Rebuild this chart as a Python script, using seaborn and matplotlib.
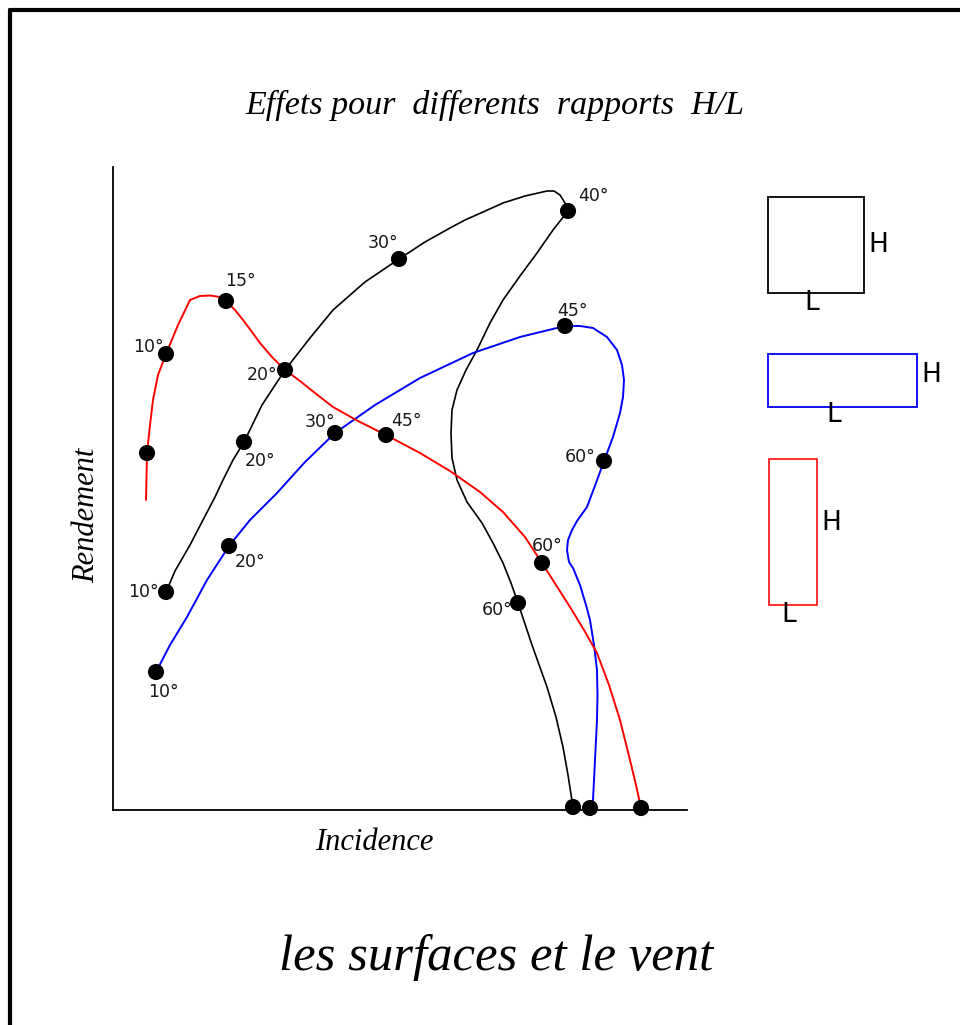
import matplotlib
matplotlib.use("Agg")
import matplotlib.pyplot as plt
import seaborn as sns
from matplotlib.patches import Rectangle
from matplotlib.lines import Line2D

sns.set_style("white")
plt.rcParams['font.family'] = ['DejaVu Sans']
plt.rcParams['text.color'] = 'black'
plt.rcParams['axes.labelcolor'] = 'black'

# --- curves (Incidence, Rendement in arbitrary units) ---
# square plate H/L = 1 (black)
sq_x = [53, 62, 77, 90, 102, 110, 120, 131, 149, 172, 197, 220, 252, 286, 312, 337, 352, 370,
        390, 412, 434, 441, 447, 452, 455, 440, 424, 407, 390, 377, 364, 353, 344, 339, 338,
        339, 344, 354, 369, 380, 390, 398, 405, 419, 434, 443, 450, 455, 460]
sq_y = [218, 239, 265, 290, 313, 330, 350, 368, 405, 440, 472, 500, 528, 551, 568, 582, 590, 598,
        607, 614, 619, 619, 615, 607, 599, 580, 557, 534, 510, 487, 460, 440, 420, 400, 377,
        352, 330, 308, 287, 267, 247, 227, 207, 165, 123, 93, 63, 35, 3]
sq_pts_x = [53, 131, 286, 455, 405, 460]
sq_pts_y = [218, 368, 551, 599, 207, 3]
sq_labels = ["10°", "20°", "30°", "40°", "60°", ""]

# wide plate H/L < 1 (blue)
wide_x = [43, 57, 74, 94, 116, 137, 164, 192, 222, 262, 307, 360, 407, 452, 467, 480, 494, 504,
          509, 511, 510, 507, 500, 491, 483, 474, 464, 459, 455, 454, 456, 460, 467, 473, 477,
          481, 484, 484.5, 484, 482, 480, 477]
wide_y = [138, 165, 193, 230, 264, 290, 317, 348, 377, 405, 432, 457, 473, 484, 484, 482, 473, 460,
          445, 430, 413, 397, 373, 349, 327, 303, 289, 280, 270, 260, 248, 242, 225, 205, 190,
          165, 140, 115, 90, 50, 10, 2]
wide_pts_x = [43, 116, 222, 452, 491, 477]
wide_pts_y = [138, 264, 377, 484, 349, 2]
wide_labels = ["10°", "20°", "30°", "45°", "60°", ""]

# tall plate H/L > 1 (red)
tall_x = [33, 33.5, 34, 37, 40, 45, 53, 65, 77, 87, 97, 107, 113, 122, 130, 139, 147, 159, 172,
          187, 202, 220, 245, 273, 307, 337, 367, 390, 412, 429, 443, 457, 471, 484, 496, 507,
          517, 523, 528]
tall_y = [310, 332, 357, 385, 410, 435, 456, 485, 510, 514, 514.5, 513, 509, 500, 490, 478, 467,
          453, 440, 429, 417, 403, 389, 375, 357, 339, 318, 298, 273, 247, 225, 203, 180, 157,
          125, 90, 50, 25, 2]
tall_pts_x = [34, 53, 113, 172, 273, 429, 528]
tall_pts_y = [357, 456, 509, 440, 375, 247, 2]
tall_labels = ["", "10°", "15°", "20°", "45°", "60°", ""]

# label offsets in pixels from each dot
sq_off = [(-23, 0), (16, -19), (-16, 16), (25, 15), (-21, -7), (0, 0)]
wide_off = [(7, -20), (21, -16), (-15, 11), (7, 15), (-24, 4), (0, 0)]
tall_off = [(0, 0), (-18, 7), (14, 20), (-23, -5), (20, 14), (5, 17), (0, 0)]

curves = [
    (sq_x, sq_y, sq_pts_x, sq_pts_y, sq_labels, sq_off, "black", 1.2),
    (wide_x, wide_y, wide_pts_x, wide_pts_y, wide_labels, wide_off, "#0000ff", 1.4),
    (tall_x, tall_y, tall_pts_x, tall_pts_y, tall_labels, tall_off, "#ff0000", 1.4),
]

fig = plt.figure(figsize=(9.6, 10.25), dpi=100)
ax = fig.add_axes([113 / 960, (1025 - 810) / 1025, 574 / 960, 643 / 1025])

for cx, cy, px, py, labs, offs, col, lw in curves:
    sns.lineplot(x=cx, y=cy, sort=False, estimator=None, color=col, lw=lw, ax=ax, zorder=3)
    sns.scatterplot(x=px, y=py, s=135, color="black", edgecolor="none", ax=ax,
                    zorder=5, clip_on=False)
    for xx, yy, lab, off in zip(px, py, labs, offs):
        if lab:
            ax.annotate(lab, (xx, yy), xytext=off, textcoords="offset pixels",
                        ha="center", va="center", fontsize=12.5, color="#1a1a1a", zorder=6)

ax.set_xlim(0, 574)
ax.set_ylim(0, 643)
ax.set_xticks([])
ax.set_yticks([])
for s in ["top", "right"]:
    ax.spines[s].set_visible(False)
for s in ["left", "bottom"]:
    ax.spines[s].set_color("black")
    ax.spines[s].set_linewidth(1.3)

serif = ["Liberation Serif", "DejaVu Serif"]
ax.set_xlabel("Incidence", fontsize=22, style="italic", family=serif)
ax.set_ylabel("Rendement", fontsize=22, style="italic", family=serif)
ax.xaxis.set_label_coords((374 - 113) / 574, -18 / 643)
ax.yaxis.set_label_coords(-12 / 574, (810 - 515) / 643)

fig.text(495 / 960, 1 - 105 / 1025, "Effets pour  differents  rapports  H/L", ha="center",
         va="center", fontsize=24.5, style="italic", family=serif)
fig.text(496 / 960, 1 - 958 / 1025, "les surfaces et le vent", ha="center", va="center",
         fontsize=36.5, style="italic", family=serif)

# --- H/L shape key on the right ---
key = fig.add_axes([740 / 960, (1025 - 630) / 1025, 220 / 960, 450 / 1025])
key.set_xlim(0, 220)
key.set_ylim(450, 0)
key.axis("off")
shapes = [
    ((28.3, 17.3), 95.7, 95.4, "black", (138, 65), (71.7, 123)),
    ((28.3, 173.7), 148.4, 53.3, "#0000ff", (191.7, 195), (94, 235)),
    ((29.3, 279.3), 47.7, 146, "#ff2020", (91, 343), (49, 435)),
]
for xy, w, h, col, hpos, lpos in shapes:
    key.add_patch(Rectangle(xy, w, h, fill=False, edgecolor=col, lw=1.3))
    key.text(*hpos, "H", ha="center", va="center", fontsize=19, color="black")
    key.text(*lpos, "L", ha="center", va="center", fontsize=19, color="black")

# page border (top and left edges)
fig.add_artist(Line2D([10 / 960, 1], [1 - 10 / 1025, 1 - 10 / 1025], color="black", lw=3,
                      transform=fig.transFigure))
fig.add_artist(Line2D([10 / 960, 10 / 960], [0, 1 - 10 / 1025], color="black", lw=3,
                      transform=fig.transFigure))

fig.savefig("out.png", dpi=100)
